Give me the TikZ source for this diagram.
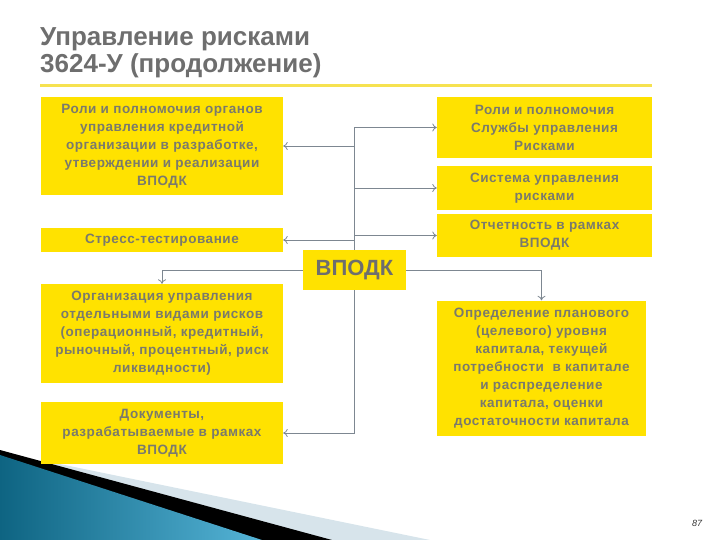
\documentclass[tikz,border=0pt]{standalone}
\usepackage{fontspec}
\setmainfont{Liberation Sans}
\newfontfamily\boxfont[LetterSpace=4]{Liberation Sans}
\usetikzlibrary{arrows.meta}
\definecolor{boxy}{RGB}{255,226,0}
\definecolor{txtg}{RGB}{122,122,108}
\definecolor{ttlg}{RGB}{110,110,110}
\definecolor{lineg}{RGB}{125,135,145}
\definecolor{rule}{RGB}{246,226,80}
\definecolor{tealD}{RGB}{14,100,130}
\definecolor{tealL}{RGB}{85,180,215}
\definecolor{paleB}{RGB}{215,228,235}
\tikzset{
  ybox/.style={fill=boxy, draw=none, inner sep=0pt, align=center,
    font=\boxfont\fontsize{13.5}{18}\selectfont\bfseries, text=txtg},
  conn/.style={draw=lineg, line width=0.8pt, -{To[length=4.5pt,width=8pt]}},
  plainconn/.style={draw=lineg, line width=0.8pt}
}
\begin{document}
\begin{tikzpicture}[x=1pt,y=-1pt]
\useasboundingbox (0,0) rectangle (720,540);
% bottom-left decoration
\fill[paleB] (50,462) -- (430,540) -- (0,540) -- cycle;
\fill[black] (0,450) -- (332,540) -- (0,540) -- cycle;
\shade[left color=tealD, right color=tealL] (0,455) -- (262,540) -- (0,540) -- cycle;
% title
\node[anchor=base west, inner sep=0pt, font=\fontsize{26}{30}\selectfont\bfseries, text=ttlg] (t1) at (40,46) {Управление рисками};
\node[anchor=base west, inner sep=0pt, font=\fontsize{26}{30}\selectfont\bfseries, text=ttlg] (t2) at (40,73) {3624-У (продолжение)};
\draw[rule, line width=3pt] (40,86) -- (652,86);
% boxes
\node[ybox, minimum width=242pt, minimum height=98pt] (L1) at (162,146)
  {Роли и полномочия органов\\управления кредитной\\организации в разработке,\\утверждении и реализации\\ВПОДК};
\node[ybox, minimum width=242pt, minimum height=24pt] (S) at (162,240) {Стресс-тестирование};
\node[ybox, minimum width=242pt, minimum height=99pt] (O) at (162,333.5)
  {Организация управления\\отдельными видами рисков\\(операционный, кредитный,\\рыночный, процентный, риск\\ликвидности)};
\node[ybox, minimum width=242pt, minimum height=62pt] (D) at (162,433)
  {Документы,\\разрабатываемые в рамках\\ВПОДК};
\node[ybox, minimum width=215pt, minimum height=61pt] (R1) at (544.5,127.5)
  {Роли и полномочия\\Службы управления\\Рисками};
\node[ybox, minimum width=215pt, minimum height=44pt] (R2) at (544.5,188)
  {Система управления\\рисками};
\node[ybox, minimum width=215pt, minimum height=43pt] (R3) at (544.5,235.5)
  {Отчетность в рамках\\ВПОДК};
\node[ybox, minimum width=209pt, minimum height=135pt] (R4) at (541.5,368)
  {Определение планового\\(целевого) уровня\\капитала, текущей\\потребности\ \ в капитале\\и распределение\\капитала, оценки\\достаточности капитала};
\node[ybox, minimum width=103pt, minimum height=40pt, font=\fontsize{22}{24}\selectfont\bfseries, text=ttlg] (V) at (354.5,270) {ВПОДК};
% connectors
\draw[plainconn] (V.north) -- (V.north |- R1.west);
\draw[conn] (V.north |- R1.west) -- (R1.west);
\draw[conn] (V.north |- L1.east) -- (L1.east);
\draw[conn] (V.north |- R2.west) -- (R2.west);
\draw[conn] (V.north |- S.east) -- (S.east);
\draw[conn] (V.north |- R3.west) -- (R3.west);
\draw[conn] (V.west) -| (O.north);
\draw[conn] (V.east) -| (R4.north);
\draw[conn] (V.south) |- (D.east);
% page number
\node[font=\fontsize{9}{10}\selectfont\itshape, text=black!80, inner sep=0pt] (pg) at (697,523) {87};
\end{tikzpicture}
\end{document}
